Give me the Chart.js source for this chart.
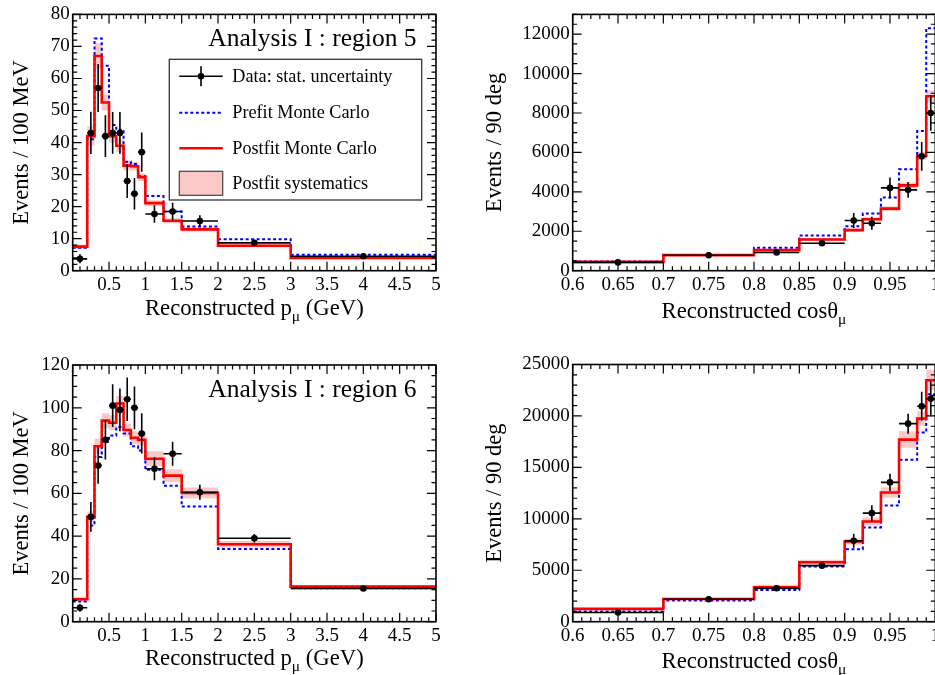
<!DOCTYPE html>
<html>
<head>
<meta charset="utf-8">
<script src="https://cdn.jsdelivr.net/npm/chart.js@4.4.1/dist/chart.umd.min.js"></script>
<style>
  body { margin: 0; width: 935px; height: 675px; overflow: hidden; background: #fff; position: relative; }
  canvas { position: absolute; }
</style>
</head>
<body>
<script>
// bin edges
const pEdges = [0, 0.2, 0.3, 0.4, 0.5, 0.6, 0.7, 0.8, 0.9, 1.0, 1.25, 1.5, 2.0, 3.0, 5.0];
const cosEdges = [0.6, 0.7, 0.8, 0.85, 0.9, 0.92, 0.94, 0.96, 0.98, 0.99, 1.0];

// tick labels
const pTicks = [0.5, 1, 1.5, 2, 2.5, 3, 3.5, 4, 4.5, 5];
const cosTicks = [0.6, 0.65, 0.7, 0.75, 0.8, 0.85, 0.9, 0.95, 1];
const r5pYTicks = [0, 10, 20, 30, 40, 50, 60, 70, 80];
const r6pYTicks = [0, 20, 40, 60, 80, 100, 120];
const r5cYTicks = [0, 2000, 4000, 6000, 8000, 10000, 12000];
const r6cYTicks = [0, 5000, 10000, 15000, 20000, 25000];

// region 5, momentum
const r5pPrefit  = [7.2, 41, 72.5, 64, 45.5, 44, 34, 33.3, 29.5, 23.3, 18.5, 13.8, 9.8, 5.0];
const r5pPostfit = [7.5, 42, 67, 52.5, 42, 39, 32.8, 32.6, 29.2, 21.1, 15.6, 12.9, 7.8, 4.0];
const r5pSyst    = [0.7, 3, 4, 2.5, 2, 2, 1.5, 1.3, 1.2, 0.9, 0.8, 0.7, 0.5, 0.3];
const r5pData    = [3.7, 43, 57, 42, 43, 43, 28, 24, 37, 17.7, 18.5, 15.5, 8.7, 4.5];
const r5pErr     = [1.4, 6.6, 7.5, 6.5, 6.5, 6.5, 5.3, 4.9, 6.1, 2.7, 2.7, 1.8, 0.9, 0.5];

// region 5, angle
const r5cPrefit  = [470, 790, 1160, 1790, 2260, 2900, 3710, 5140, 7080, 12300];
const r5cPostfit = [450, 790, 1045, 1580, 2060, 2610, 3150, 4330, 5820, 8850];
const r5cSyst    = [30, 40, 50, 70, 80, 100, 120, 150, 200, 300];
const r5cData    = [420, 780, 920, 1390, 2550, 2410, 4200, 4100, 5800, 8000];
const r5cErr     = [40, 60, 80, 120, 380, 330, 530, 400, 730, 900];

// region 6, momentum
const r6pPrefit  = [9.5, 45, 77, 84, 87, 91, 88, 82, 80, 71, 63.5, 53.8, 34, 15.6];
const r6pPostfit = [10.5, 49, 82, 94, 93, 102, 89.6, 86, 85, 76.2, 68.3, 60.2, 36.2, 16.4];
const r6pSyst    = [1.2, 2.5, 3.5, 3.5, 3.5, 3.5, 3, 3, 2.8, 3.5, 3, 2.5, 1.5, 0.8];
const r6pData    = [6.5, 49, 73, 85, 101, 99, 104, 100, 88, 71.5, 78.5, 60.5, 39, 15.5];
const r6pErr     = [1.8, 7, 8.5, 9.2, 10, 10, 10.2, 10, 9.4, 5.4, 5.6, 3.5, 2, 0.9];

// region 6, angle
const r6cPrefit  = [1000, 2050, 3080, 5360, 7050, 9160, 11300, 15750, 18400, 22100];
const r6cPostfit = [1250, 2210, 3340, 5780, 7790, 9740, 12560, 17700, 19740, 23470];
const r6cSyst    = [100, 120, 250, 250, 300, 400, 500, 800, 700, 1000];
const r6cData    = [900, 2180, 3250, 5450, 7860, 10550, 13540, 19250, 20940, 21660];
const r6cErr     = [80, 120, 200, 250, 680, 760, 840, 970, 1400, 1700];

const legendLabels = ['Data: stat. uncertainty', 'Prefit Monte Carlo', 'Postfit Monte Carlo', 'Postfit systematics'];

const FONT = "'Liberation Serif', 'Times New Roman', serif";
Chart.defaults.font.family = FONT;
Chart.defaults.color = '#000';

function hist(edges, vals) {
  const pts = [];
  vals.forEach((v, i) => { pts.push({x: edges[i], y: v}, {x: edges[i + 1], y: v}); });
  return pts;
}
function dataPoints(edges, vals, errs) {
  return vals.map((v, i) => ({x: (edges[i] + edges[i + 1]) / 2, y: v, ex: (edges[i + 1] - edges[i]) / 2, ey: errs[i]}));
}

function axisTicks(ctx, scale, major, minor, horiz, a) {
  const start = Math.ceil(scale.min / minor - 1e-6);
  const end = Math.floor(scale.max / minor + 1e-6);
  for (let k = start; k <= end; k++) {
    const v = k * minor;
    const r = v / major;
    const len = Math.abs(r - Math.round(r)) < 1e-6 ? 9 : 4.5;
    const p = scale.getPixelForValue(v);
    ctx.beginPath();
    if (horiz) {
      ctx.moveTo(p, a.bottom); ctx.lineTo(p, a.bottom - len);
      ctx.moveTo(p, a.top); ctx.lineTo(p, a.top + len);
    } else {
      ctx.moveTo(a.left, p); ctx.lineTo(a.left + len, p);
      ctx.moveTo(a.right, p); ctx.lineTo(a.right - len, p);
    }
    ctx.stroke();
  }
}

// error bars, frame with ROOT-style ticks, titles, legend
const rootStyle = {
  id: 'rootStyle',
  afterDatasetsDraw(chart, args, o) {
    const {ctx, chartArea: a, scales: {x, y}} = chart;
    ctx.save();
    ctx.beginPath();
    ctx.rect(a.left, a.top, a.right - a.left, a.bottom - a.top);
    ctx.clip();
    ctx.strokeStyle = '#000';
    ctx.lineWidth = 1.6;
    chart.data.datasets[0].data.forEach(p => {
      const px = x.getPixelForValue(p.x), py = y.getPixelForValue(p.y);
      ctx.beginPath();
      ctx.moveTo(x.getPixelForValue(p.x - p.ex), py);
      ctx.lineTo(x.getPixelForValue(p.x + p.ex), py);
      ctx.moveTo(px, y.getPixelForValue(p.y - p.ey));
      ctx.lineTo(px, y.getPixelForValue(p.y + p.ey));
      ctx.stroke();
    });
    ctx.restore();

    ctx.save();
    ctx.strokeStyle = '#000';
    ctx.lineWidth = 1.2;
    axisTicks(ctx, x, o.xMajor, o.xMinor, true, a);
    axisTicks(ctx, y, o.yMajor, o.yMinor, false, a);
    ctx.lineWidth = 1.6;
    ctx.strokeRect(a.left, a.top, a.right - a.left, a.bottom - a.top);

    // x title with subscript
    ctx.fillStyle = '#000';
    ctx.textBaseline = 'alphabetic';
    ctx.textAlign = 'left';
    const main = '22.7px ' + FONT, sub = '15.5px ' + FONT;
    ctx.font = main;
    const w1 = ctx.measureText(o.xTitle[0]).width;
    const w3 = ctx.measureText(o.xTitle[2]).width;
    ctx.font = sub;
    const w2 = ctx.measureText(o.xTitle[1]).width;
    let tx = (a.left + a.right) / 2 - (w1 + w2 + w3) / 2;
    const ty = a.bottom + o.xTitleGap;
    ctx.font = main; ctx.fillText(o.xTitle[0], tx, ty); tx += w1;
    ctx.font = sub; ctx.fillText(o.xTitle[1], tx, ty + 6); tx += w2;
    ctx.font = main; ctx.fillText(o.xTitle[2], tx, ty);

    // y title
    ctx.save();
    ctx.translate(a.left - o.yTitleDx, (a.top + a.bottom) / 2);
    ctx.rotate(-Math.PI / 2);
    ctx.textAlign = 'center';
    ctx.textBaseline = 'middle';
    ctx.font = '22.5px ' + FONT;
    ctx.fillText(o.yTitle, 0, 0);
    ctx.restore();

    if (o.label) {
      ctx.font = '25.5px ' + FONT;
      ctx.textAlign = 'right';
      ctx.textBaseline = 'alphabetic';
      ctx.fillText(o.label, a.right - 19.5, a.top + 31.7);
    }

    if (o.legend) {
      const L = o.legend;
      ctx.fillStyle = '#fff';
      ctx.fillRect(L.x0, L.y0, L.x1 - L.x0, L.y1 - L.y0);
      ctx.strokeStyle = '#333';
      ctx.lineWidth = 1.3;
      ctx.strokeRect(L.x0, L.y0, L.x1 - L.x0, L.y1 - L.y0);
      const mx0 = L.x0 + 10, mx1 = L.x0 + 53.4, tX = L.x0 + 63;
      // data marker
      ctx.strokeStyle = '#000'; ctx.lineWidth = 1.6;
      ctx.beginPath();
      ctx.moveTo(mx0, L.rows[0]); ctx.lineTo(mx1, L.rows[0]);
      ctx.moveTo((mx0 + mx1) / 2, L.rows[0] - 10); ctx.lineTo((mx0 + mx1) / 2, L.rows[0] + 10);
      ctx.stroke();
      ctx.fillStyle = '#000';
      ctx.beginPath(); ctx.arc((mx0 + mx1) / 2, L.rows[0], 3.3, 0, Math.PI * 2); ctx.fill();
      // prefit
      ctx.strokeStyle = '#0000ff'; ctx.lineWidth = 2; ctx.setLineDash([3, 2.5]);
      ctx.beginPath(); ctx.moveTo(mx0, L.rows[1]); ctx.lineTo(mx1, L.rows[1]); ctx.stroke();
      ctx.setLineDash([]);
      // postfit
      ctx.strokeStyle = '#ff0000'; ctx.lineWidth = 2.6;
      ctx.beginPath(); ctx.moveTo(mx0, L.rows[2]); ctx.lineTo(mx1, L.rows[2]); ctx.stroke();
      // systematics swatch
      ctx.fillStyle = '#fbc8c8';
      ctx.fillRect(mx0, L.rows[3] - 12, mx1 - mx0, 24);
      ctx.strokeStyle = '#444'; ctx.lineWidth = 1.2;
      ctx.strokeRect(mx0, L.rows[3] - 12, mx1 - mx0, 24);
      ctx.fillStyle = '#000';
      ctx.font = '18.2px ' + FONT;
      ctx.textAlign = 'left';
      ctx.textBaseline = 'middle';
      legendLabels.forEach((t, i) => ctx.fillText(t, tX, L.rows[i] + 1));
    }
    ctx.restore();
  }
};

const panels = [
  {left: 0, top: 0, w: 468, h: 338, area: [72.7, 14, 436, 270.7],
   edges: pEdges, pre: r5pPrefit, post: r5pPostfit, syst: r5pSyst, data: r5pData, err: r5pErr,
   xMin: 0, xMax: 5, yMax: 80, xTicks: pTicks, yTicks: r5pYTicks,
   style: {xMajor: 0.5, xMinor: 0.1, yMajor: 10, yMinor: 2, xTitle: ['Reconstructed p', 'μ', ' (GeV)'],
     yTitle: 'Events / 100 MeV', xTitleGap: 44.5, yTitleDx: 50.7, label: 'Analysis I : region 5',
     legend: {x0: 169.3, y0: 59.3, x1: 421.7, y1: 200, rows: [76.3, 112.7, 148.3, 183.3]}}},
  {left: 468, top: 0, w: 480, h: 338, area: [104.7, 13.3, 467.3, 270.7],
   edges: cosEdges, pre: r5cPrefit, post: r5cPostfit, syst: r5cSyst, data: r5cData, err: r5cErr,
   xMin: 0.6, xMax: 1, yMax: 13000, xTicks: cosTicks, yTicks: r5cYTicks,
   style: {xMajor: 0.05, xMinor: 0.01, yMajor: 2000, yMinor: 500, xTitle: ['Reconstructed cosθ', 'μ', ''],
     yTitle: 'Events / 90 deg', xTitleGap: 47.5, yTitleDx: 77.7}},
  {left: 0, top: 338, w: 468, h: 337, area: [72.7, 27, 436, 283.7],
   edges: pEdges, pre: r6pPrefit, post: r6pPostfit, syst: r6pSyst, data: r6pData, err: r6pErr,
   xMin: 0, xMax: 5, yMax: 120, xTicks: pTicks, yTicks: r6pYTicks,
   style: {xMajor: 0.5, xMinor: 0.1, yMajor: 20, yMinor: 5, xTitle: ['Reconstructed p', 'μ', ' (GeV)'],
     yTitle: 'Events / 100 MeV', xTitleGap: 43.5, yTitleDx: 51, label: 'Analysis I : region 6'}},
  {left: 468, top: 338, w: 480, h: 337, area: [104.7, 26.5, 467.3, 283.7],
   edges: cosEdges, pre: r6cPrefit, post: r6cPostfit, syst: r6cSyst, data: r6cData, err: r6cErr,
   xMin: 0.6, xMax: 1, yMax: 25000, xTicks: cosTicks, yTicks: r6cYTicks,
   style: {xMajor: 0.05, xMinor: 0.01, yMajor: 5000, yMinor: 1000, xTitle: ['Reconstructed cosθ', 'μ', ''],
     yTitle: 'Events / 90 deg', xTitleGap: 46.3, yTitleDx: 77.7}}
];

panels.forEach(P => {
  const cv = document.createElement('canvas');
  cv.width = P.w; cv.height = P.h;
  cv.style.left = P.left + 'px'; cv.style.top = P.top + 'px';
  cv.style.width = P.w + 'px'; cv.style.height = P.h + 'px';
  document.body.appendChild(cv);
  const [aL, aT, aR, aB] = P.area;
  const upper = P.post.map((v, i) => v + P.syst[i]);
  const lower = P.post.map((v, i) => v - P.syst[i]);

  new Chart(cv, {
    type: 'scatter',
    data: {
      datasets: [
        {data: dataPoints(P.edges, P.data, P.err), pointRadius: 3.3, pointBackgroundColor: '#000',
         pointBorderWidth: 0, showLine: false, order: 0},
        {data: hist(P.edges, P.post), showLine: true, borderColor: '#ff0000', borderWidth: 2.6,
         pointRadius: 0, fill: false, order: 1},
        {data: hist(P.edges, P.pre), showLine: true, borderColor: '#0000ff', borderWidth: 2,
         borderDash: [3, 2.5], pointRadius: 0, fill: false, order: 2},
        {data: hist(P.edges, upper), showLine: true, borderWidth: 0, pointRadius: 0, fill: false, order: 3},
        {data: hist(P.edges, lower), showLine: true, borderWidth: 0, pointRadius: 0,
         fill: '-1', backgroundColor: '#fbc8c8', order: 4}
      ]
    },
    options: {
      responsive: false,
      animation: false,
      devicePixelRatio: 1,
      layout: {padding: {left: 0, top: aT, right: P.w - aR, bottom: 0}},
      plugins: {legend: {display: false}, tooltip: {enabled: false}, rootStyle: P.style},
      scales: {
        x: {
          type: 'linear', min: P.xMin, max: P.xMax,
          grid: {display: false, drawTicks: false}, border: {display: false},
          ticks: {font: {size: 19}, color: '#000', padding: 3, autoSkip: false, maxRotation: 0,
                  callback: v => String(v)},
          afterBuildTicks: s => { s.ticks = P.xTicks.map(v => ({value: v})); },
          afterFit: s => { s.height = P.h - aB; }
        },
        y: {
          type: 'linear', min: 0, max: P.yMax,
          grid: {display: false, drawTicks: false}, border: {display: false},
          ticks: {font: {size: 19}, color: '#000', padding: 3, autoSkip: false,
                  callback: v => String(v)},
          afterBuildTicks: s => { s.ticks = P.yTicks.map(v => ({value: v})); },
          afterFit: s => { s.width = aL; }
        }
      }
    },
    plugins: [rootStyle]
  });
});
</script>
</body>
</html>
